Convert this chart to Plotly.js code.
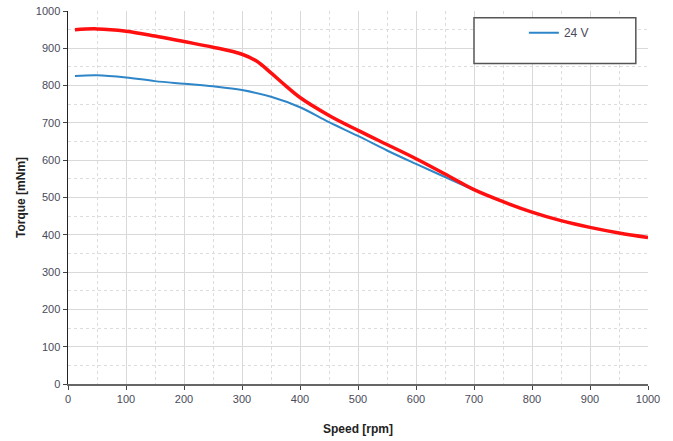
<!DOCTYPE html>
<html><head><meta charset="utf-8">
<script src="https://cdn.plot.ly/plotly-3.0.1.min.js"></script>
<style>body{margin:0;background:#fff}#c{width:673px;height:441px}</style>
</head><body><div id="c"></div>
<script>
const speedRed = [12, 50, 100, 150, 200, 250, 300, 325, 350, 375, 400, 450, 500, 550, 600, 650, 700, 750, 800, 850, 900, 950, 1000];
const torqueRed = [950, 952, 946, 933, 918, 903, 884, 866, 834, 800, 768, 720, 680, 642, 604, 563, 521, 489, 461, 438, 420, 405, 393];
const speed24V = [12, 50, 100, 150, 200, 250, 300, 350, 400, 450, 500, 550, 600, 650, 700];
const torque24V = [826, 828, 822, 812, 805, 798, 788, 770, 742, 702, 665, 626, 590, 555, 520];
const seriesName = "24 V";

const traces = [
  {x: speed24V, y: torque24V, mode: 'lines', name: seriesName, line: {color: '#2e86c8', width: 2, shape: 'spline'}},
  {x: speedRed, y: torqueRed, mode: 'lines', name: 'max', showlegend: false, line: {color: '#ff0f0f', width: 3.5, shape: 'spline'}}
];
const axisCommon = {
  showgrid: true, gridcolor: '#d9d9d9', gridwidth: 1,
  showline: true, linewidth: 1.5, ticks: 'outside', ticklen: 4, tickcolor: '#444',
  zeroline: false, tickfont: {family: 'Arial, Liberation Sans, sans-serif', size: 11, color: '#4a4a5a'}
};
const layout = {
  width: 673, height: 441,
  margin: {l: 68, r: 25, t: 11, b: 57},
  paper_bgcolor: '#fff', plot_bgcolor: '#fff',
  xaxis: Object.assign({}, axisCommon, {
    range: [0, 1000], dtick: 100, linecolor: '#666',
    minor: {dtick: 50, showgrid: true, gridcolor: '#dcdcdc', griddash: 'dot', gridwidth: 1},
    title: {text: '<b>Speed [rpm]</b>', font: {family: 'Arial, Liberation Sans, sans-serif', size: 12, color: '#222'}, standoff: 21}
  }),
  yaxis: Object.assign({}, axisCommon, {
    range: [0, 1000], dtick: 100, linecolor: '#222',
    minor: {dtick: 50, showgrid: true, gridcolor: '#dcdcdc', griddash: 'dot', gridwidth: 1},
    title: {text: '<b>Torque [mNm]</b>', font: {family: 'Arial, Liberation Sans, sans-serif', size: 12, color: '#222'}, standoff: 7}
  }),
  shapes: [{type: 'rect', xref: 'paper', yref: 'paper', x0: 0.70, x1: 0.979, y0: 0.859, y1: 0.982,
    line: {color: '#555', width: 1.5}, fillcolor: '#fff', layer: 'above'}],
  legend: {x: 0.786, y: 0.942, xanchor: 'left', yanchor: 'middle', bgcolor: 'rgba(0,0,0,0)',
    font: {family: 'Arial, Liberation Sans, sans-serif', size: 12, color: '#4a4a5a'}},
  showlegend: true
};
Plotly.newPlot('c', traces, layout, {staticPlot: true});
</script></body></html>
